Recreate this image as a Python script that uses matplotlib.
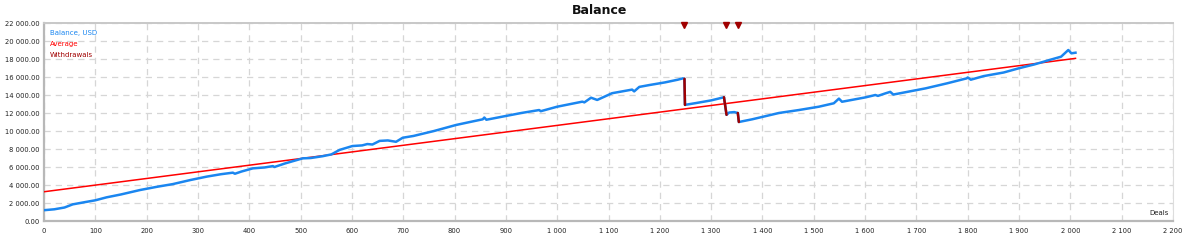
import matplotlib
matplotlib.use("Agg")
import matplotlib.pyplot as plt
from matplotlib.ticker import FuncFormatter

# ---- data ----
deals = [0, 20, 40, 56, 80, 100, 122, 150, 187, 220, 251, 285, 317, 345, 368, 372,
         385, 407, 430, 446, 449, 470, 504, 520, 543, 560, 576, 601, 620, 630, 640,
         654, 670, 686, 699, 720, 760, 803, 830, 855, 858, 862, 900, 930, 965, 968,
         1000, 1049, 1053, 1066, 1078, 1107, 1146, 1150, 1160, 1179, 1210, 1235, 1245,
         1248, 1249, 1270, 1300, 1325, 1330, 1335, 1345, 1352, 1354, 1380, 1432, 1471,
         1510, 1539, 1549, 1555, 1601, 1620, 1625, 1640, 1649, 1655, 1718, 1760, 1798,
         1800, 1806, 1831, 1870, 1899, 1930, 1957, 1982, 1996, 2002, 2010]
balance = [1200, 1300, 1500, 1850, 2100, 2300, 2630, 2950, 3440, 3800, 4100, 4550, 4930,
           5200, 5370, 5250, 5500, 5850, 5950, 6100, 6000, 6400, 6960, 7000, 7200, 7400,
           7900, 8330, 8400, 8550, 8500, 8900, 8950, 8800, 9250, 9450, 10000, 10670,
           11000, 11300, 11500, 11250, 11670, 12000, 12330, 12200, 12700, 13260, 13180,
           13700, 13450, 14200, 14600, 14400, 14900, 15100, 15400, 15700, 15850, 15800,
           12900, 13100, 13400, 13750, 11800, 12050, 12100, 12000, 11000, 11300, 12000,
           12330, 12700, 13080, 13600, 13250, 13740, 14000, 13900, 14190, 14350, 14050,
           14740, 15300, 15850, 15950, 15700, 16100, 16500, 16960, 17400, 17850, 18260,
           19000, 18630, 18700]

avg_deals = [0, 2010]
avg_values = [3250, 18070]

wd_start_deal = [1248, 1325, 1352]
wd_end_deal = [1249, 1330, 1354]
wd_before = [15800, 13750, 12000]
wd_after = [12900, 11800, 11000]
wd_marker_deal = [1248, 1328, 1353]

x_ticks = list(range(0, 2201, 100))
y_ticks = list(range(0, 22001, 2000))

BLUE = "#1a86f0"
RED = "#ff0000"
DARKRED = "#a00000"

plt.rcParams['font.family'] = ['DejaVu Sans']

fig = plt.figure(figsize=(12, 2.49), dpi=100)
ax = fig.add_axes([44/1200, 1-221/249, (1173-44)/1200, (221-23)/249])

ax.set_xlim(0, 2200)
ax.set_ylim(0, 22000)
ax.set_xticks(x_ticks)
ax.set_yticks(y_ticks)

def fmt_x(v, pos):
    return f"{int(v):,}".replace(",", " ")

def fmt_y(v, pos):
    return f"{v:,.2f}".replace(",", " ")

ax.xaxis.set_major_formatter(FuncFormatter(fmt_x))
ax.yaxis.set_major_formatter(FuncFormatter(fmt_y))
ax.tick_params(axis='both', length=0, labelsize=4.9, colors="#222222")
ax.tick_params(axis='y', pad=3)
ax.tick_params(axis='x', pad=5)

ax.grid(True, color="#d6d6d6", linestyle=(0, (5, 4)), linewidth=0.9)
ax.set_axisbelow(True)

for side in ["left", "bottom"]:
    ax.spines[side].set_color("#b8b8b8")
    ax.spines[side].set_linewidth(1.6)
ax.spines["top"].set_color("#c8c8c8")
ax.spines["top"].set_linewidth(1.4)
ax.spines["right"].set_color("#dddddd")
ax.spines["right"].set_linewidth(0.8)

ax.plot(avg_deals, avg_values, color=RED, linewidth=1.1, zorder=3)
ax.plot(deals, balance, color=BLUE, linewidth=1.8, zorder=4, solid_joinstyle='round')
for xs, xe, b, a in zip(wd_start_deal, wd_end_deal, wd_before, wd_after):
    ax.plot([xs, xe], [b, a], color=DARKRED, linewidth=1.8, zorder=5, solid_capstyle='round')

ax.plot(wd_marker_deal, [21750]*len(wd_marker_deal), linestyle='none', marker='v',
        markersize=4, color=DARKRED, zorder=6, clip_on=False)

# legend texts
ax.text(0.005, 0.95, "Balance, USD", transform=ax.transAxes, color=BLUE, fontsize=5, va='center')
ax.text(0.005, 0.892, "Average", transform=ax.transAxes, color=RED, fontsize=5, va='center')
ax.text(0.005, 0.836, "Withdrawals", transform=ax.transAxes, color=DARKRED, fontsize=5, va='center')

ax.text(0.9965, 0.04, "Deals", transform=ax.transAxes, color="#222222", fontsize=5,
        ha='right', va='center')

fig.text(0.5, 1-10/249, "Balance", ha='center', va='center', fontsize=9, fontweight='bold',
         color="#111111")

fig.savefig("out.png", dpi=100, facecolor="white")
